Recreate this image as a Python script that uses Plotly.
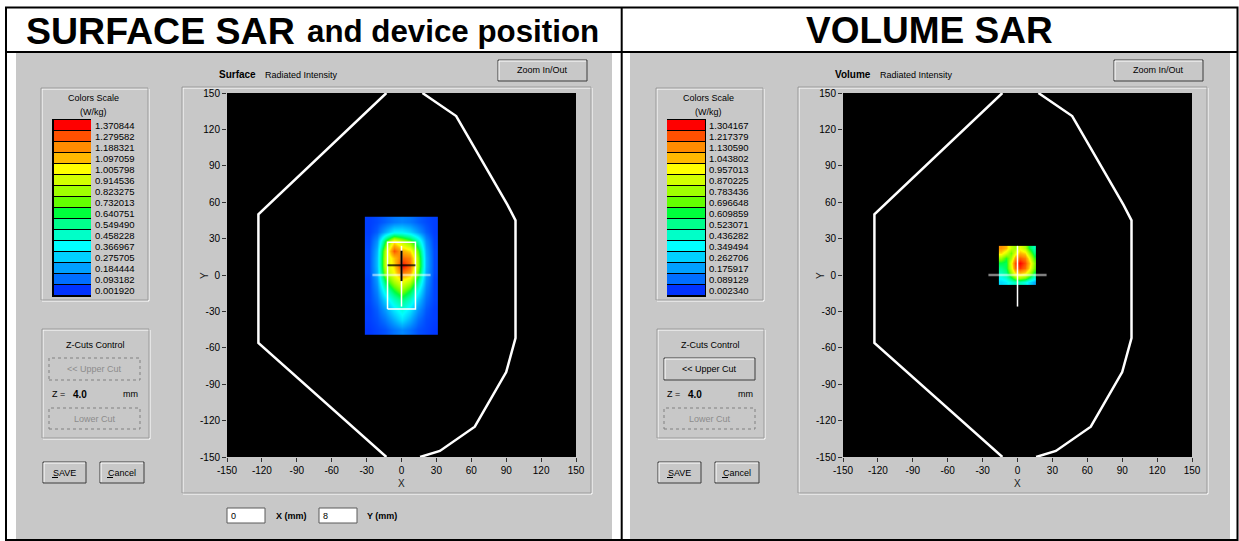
import plotly.graph_objects as go

W, H = 1239, 541

# ---- colour scale levels (W/kg), listed top to bottom as in each legend ----
surface_levels = [1.370844, 1.279582, 1.188321, 1.097059, 1.005798, 0.914536,
                  0.823275, 0.732013, 0.640751, 0.549490, 0.458228, 0.366967,
                  0.275705, 0.184444, 0.093182, 0.001920]
volume_levels = [1.304167, 1.217379, 1.130590, 1.043802, 0.957013, 0.870225,
                 0.783436, 0.696648, 0.609859, 0.523071, 0.436282, 0.349494,
                 0.262706, 0.175917, 0.089129, 0.002340]
scale_colors = ['#ff0000', '#ff5000', '#ff8c00', '#ffb900', '#ffff00', '#d2ff00',
                '#a0ff00', '#64ff00', '#00ff3c', '#00ff8c', '#00ffc8', '#00ffff',
                '#00d2ff', '#00a0ff', '#006eff', '#0032ff']

# ---- surface scan (mm grid, rows top to bottom) ----
surface_x = [-28, -21, -14, -7, 0, 7, 14, 21, 28]
surface_y = [44, 36, 28, 20, 14, 8, 2, -4, -12, -20, -28, -36, -45]
surface_sar = [
    [0.02, 0.04, 0.07, 0.11, 0.13, 0.11, 0.07, 0.04, 0.02],
    [0.02, 0.07, 0.20, 0.34, 0.34, 0.28, 0.17, 0.07, 0.02],
    [0.03, 0.16, 0.62, 1.00, 0.85, 0.72, 0.48, 0.15, 0.03],
    [0.04, 0.22, 0.85, 1.28, 1.12, 1.05, 0.72, 0.20, 0.04],
    [0.04, 0.24, 0.88, 1.08, 1.25, 1.20, 0.80, 0.22, 0.04],
    [0.04, 0.24, 0.88, 1.05, 1.37, 1.25, 0.82, 0.22, 0.04],
    [0.04, 0.22, 0.80, 1.00, 1.22, 1.15, 0.74, 0.20, 0.04],
    [0.03, 0.18, 0.64, 0.88, 1.02, 0.92, 0.58, 0.17, 0.03],
    [0.03, 0.14, 0.44, 0.66, 0.80, 0.66, 0.40, 0.13, 0.03],
    [0.03, 0.10, 0.28, 0.46, 0.57, 0.46, 0.26, 0.09, 0.03],
    [0.02, 0.07, 0.18, 0.33, 0.43, 0.33, 0.17, 0.06, 0.02],
    [0.02, 0.05, 0.11, 0.22, 0.32, 0.22, 0.10, 0.04, 0.02],
    [0.01, 0.03, 0.05, 0.10, 0.14, 0.10, 0.05, 0.03, 0.01],
]

# ---- volume (zoom) scan, rows top to bottom ----
volume_x = [-14, -10, -6, -2, 2, 6, 10, 14]
volume_y = [22, 18, 14, 10, 6, 2, -2, -6]
volume_sar = [
    [1.12, 1.05, 0.85, 0.78, 0.92, 0.82, 0.60, 0.46],
    [1.00, 0.88, 0.72, 0.90, 1.05, 1.00, 0.78, 0.55],
    [0.78, 0.64, 0.80, 1.10, 1.20, 1.15, 0.95, 0.66],
    [0.60, 0.58, 0.92, 1.22, 1.30, 1.22, 1.05, 0.76],
    [0.52, 0.58, 0.88, 1.18, 1.25, 1.18, 1.00, 0.72],
    [0.45, 0.52, 0.76, 0.98, 1.05, 0.98, 0.84, 0.60],
    [0.36, 0.42, 0.58, 0.72, 0.78, 0.72, 0.58, 0.40],
    [0.28, 0.32, 0.40, 0.46, 0.46, 0.40, 0.30, 0.20],
]

# ---- phantom outline (mm), two open segments ----
outline_x = [18, 47, 91, 98, 98, 90, 63, 33, 16, None, -13, -123, -123, -13]
outline_y = [150, 131, 58, 45, -52, -80, -125, -145, -150, None, -150, -56, 50, 150]

# device footprint and probe position
device_x = [-12, 12]
device_y = [-28, 27]
probe_x, probe_y = 0, 8
ticks_mm = [-150, -120, -90, -60, -30, 0, 30, 60, 90, 120, 150]

UI = "Liberation Sans"
GRAY = "#c8c8c8"


def PX(x):
    return x / W


def PY(y):
    return 1 - y / H


shapes = []
annotations = []


def rect(x0, y0, x1, y1, fill=None, line=None, lw=1, dash=None):
    shapes.append(dict(type="rect", xref="paper", yref="paper",
                       x0=PX(x0), x1=PX(x1), y0=PY(y1), y1=PY(y0),
                       fillcolor=fill or "rgba(0,0,0,0)",
                       line=dict(color=line or "rgba(0,0,0,0)", width=lw if line else 0,
                                 dash=dash or "solid"),
                       layer="below"))


def hline(x0, x1, y, color, lw=1):
    shapes.append(dict(type="line", xref="paper", yref="paper", x0=PX(x0), x1=PX(x1),
                       y0=PY(y), y1=PY(y), line=dict(color=color, width=lw), layer="below"))


def vline(x, y0, y1, color, lw=1):
    shapes.append(dict(type="line", xref="paper", yref="paper", x0=PX(x), x1=PX(x),
                       y0=PY(y0), y1=PY(y1), line=dict(color=color, width=lw), layer="below"))


def text(x, y, s, size=9, color="#000", bold=False, xanchor="left", angle=0, family=UI):
    if bold:
        s = "<b>" + s + "</b>"
    annotations.append(dict(x=PX(x), y=PY(y), xref="paper", yref="paper", text=s,
                            showarrow=False, xanchor=xanchor, yanchor="middle",
                            textangle=angle, font=dict(family=family, size=size, color=color)))


def etched(x0, y0, x1, y1):
    rect(x0 + 1, y0 + 1, x1 + 1, y1 + 1, line="#ffffff")
    rect(x0, y0, x1, y1, line="#9a9a9a")


def button(x0, y0, x1, y1, label, enabled=True, underline=None):
    if enabled:
        rect(x0, y0, x1, y1, fill=GRAY, line="#3c3c3c")
        hline(x0 + 1, x1 - 1, y0 + 1, "#ffffff")
        vline(x0 + 1, y0 + 1, y1 - 1, "#ffffff")
        color = "#000"
    else:
        rect(x0, y0, x1, y1, fill=GRAY, line="#808080", dash="dot")
        color = "#8c8c8c"
    cx, cy = (x0 + x1) / 2, (y0 + y1) / 2
    text(cx, cy, label, size=9, color=color, xanchor="center")
    if underline:
        ux0, ux1 = underline
        hline(ux0, ux1, cy + 5, "#000")


# ---- page frame ----
rect(16, 53, 612, 539, fill=GRAY)
rect(630, 53, 1230, 539, fill=GRAY)
rect(6, 7.5, 1237.5, 540, line="#000", lw=2)
hline(6, 1237.5, 52, "#000", 2)
vline(621.7, 7.5, 540, "#000", 2)

text(24, 31, "SURFACE SAR", size=37.5, bold=True)
text(305, 32, "and device position", size=31.3, bold=True)
text(929, 31, "VOLUME SAR", size=37, bold=True, xanchor="center")

panels = [
    dict(off=0, woff=0, name="Surface", levels=surface_levels, enabled_upper=False),
    dict(off=616, woff=615, name="Volume", levels=volume_levels, enabled_upper=True),
]

for p in panels:
    o, w = p["off"], p["woff"]
    # plot group frame and black plotting area
    etched(182 + o, 87, 591 + o, 493)
    rect(227 + o, 93, 576 + o, 457, fill="#000")
    # header
    text(217 + o, 75, p["name"], size=10, bold=True)
    text(263 + o if o == 0 else 878, 75, "Radiated Intensity", size=9)
    button(498 + o, 60, 587 + o, 81, "Zoom In/Out")
    # colour legend box
    etched(41 + w, 88, 148 + w, 300)
    text(93 + w, 98, "Colors Scale", size=9, xanchor="center")
    text(93 + w, 112, "(W/kg)", size=9, xanchor="center")
    rect(53 + w - 1, 119, 92 + w - 1, 297, fill="#000")
    # Z-cuts control
    etched(42 + w, 329, 149 + w, 438)
    text(95 + w, 345, "Z-Cuts Control", size=9, xanchor="center")
    button(49 + w, 358, 140 + w, 380, "&lt;&lt; Upper Cut", enabled=p["enabled_upper"])
    text(50 + w, 394, "Z =", size=9)
    text(71 + w, 394, "4.0", size=10, bold=True)
    text(140 + w, 394, "mm", size=9, xanchor="right")
    button(49 + w, 408, 140 + w, 429, "Lower Cut", enabled=False)
    button(43 + w, 462, 86 + w, 483, "SAVE", underline=(52 + w, 58 + w))
    button(100 + w, 462, 144 + w, 483, "Cancel", underline=(107 + w, 113 + w))
    # axis titles
    text(401 + o, 483, "X", size=10, color="#202020", xanchor="center")
    text(204 + o, 276, "Y", size=10, color="#202020", xanchor="center", angle=-90)

# probe position inputs
rect(227, 508, 265, 523, fill="#ffffff", line="#5a5a5a")
text(229, 516, str(probe_x), size=9)
text(274, 516, "X (mm)", size=9, bold=True)
rect(319, 508, 357, 523, fill="#ffffff", line="#5a5a5a")
text(321, 516, str(probe_y), size=9)
text(365, 516, "Y (mm)", size=9, bold=True)


def continuous_scale(levels):
    lo, hi = min(levels), max(levels)
    return [[(v - lo) / (hi - lo), c] for v, c in zip(reversed(levels), reversed(scale_colors))]


def discrete_scale():
    cols = list(reversed(scale_colors))
    return [[i / 15, c] for i, c in enumerate(cols)]


fig = go.Figure()

# SAR maps
fig.add_trace(go.Heatmap(x=surface_x, y=surface_y[::-1], z=surface_sar[::-1], zsmooth="best",
                         colorscale=continuous_scale(surface_levels),
                         zmin=min(surface_levels), zmax=max(surface_levels),
                         showscale=False, hoverinfo="skip", xaxis="x", yaxis="y"))
fig.add_trace(go.Heatmap(x=volume_x, y=volume_y[::-1], z=volume_sar[::-1], zsmooth="best",
                         colorscale=continuous_scale(volume_levels),
                         zmin=min(volume_levels), zmax=max(volume_levels),
                         showscale=False, hoverinfo="skip", xaxis="x2", yaxis="y2"))

for xa, ya in (("x", "y"), ("x2", "y2")):
    fig.add_trace(go.Scatter(x=outline_x, y=outline_y, mode="lines",
                             line=dict(color="#ffffff", width=2.5), hoverinfo="skip",
                             xaxis=xa, yaxis=ya))
    # reference cross at the origin
    fig.add_trace(go.Scatter(x=[-25, 25], y=[0, 0], mode="lines",
                             line=dict(color="rgba(255,255,255,0.5)", width=2.5),
                             hoverinfo="skip", xaxis=xa, yaxis=ya))
    fig.add_trace(go.Scatter(x=[0, 0], y=[-26, 24], mode="lines",
                             line=dict(color="#ffffff", width=1.5),
                             hoverinfo="skip", xaxis=xa, yaxis=ya))

# device footprint and probe cross on the surface map
fig.add_trace(go.Scatter(x=[device_x[0], device_x[1], device_x[1], device_x[0], device_x[0]],
                         y=[device_y[0], device_y[0], device_y[1], device_y[1], device_y[0]],
                         mode="lines", line=dict(color="#ffffff", width=1.5),
                         hoverinfo="skip", xaxis="x", yaxis="y"))
fig.add_trace(go.Scatter(x=[probe_x - 12, probe_x + 12], y=[probe_y, probe_y], mode="lines",
                         line=dict(color="rgba(0,0,0,0.75)", width=2),
                         hoverinfo="skip", xaxis="x", yaxis="y"))
fig.add_trace(go.Scatter(x=[probe_x, probe_x], y=[probe_y - 13, probe_y + 12], mode="lines",
                         line=dict(color="#000000", width=2),
                         hoverinfo="skip", xaxis="x", yaxis="y"))

# colour legends
for levels, xa, ya in ((surface_levels, "x3", "y3"), (volume_levels, "x4", "y4")):
    fig.add_trace(go.Heatmap(z=[[i] for i in range(16)], y=list(range(16)), x=[0],
                             colorscale=discrete_scale(), zmin=0, zmax=15, ygap=1,
                             showscale=False, hoverinfo="skip", xaxis=xa, yaxis=ya))

main_axis = dict(range=[-150, 150], tickvals=ticks_mm, ticktext=[str(t) for t in ticks_mm],
                 ticks="outside", ticklen=4, automargin=False,
                 tickcolor="#303030", tickfont=dict(family=UI, size=10, color="#000"),
                 showgrid=False, zeroline=False, showline=False, fixedrange=True)


def legend_y(levels, dom):
    return dict(domain=dom, range=[-0.5, 15.5], side="right", tickvals=list(range(16)),
                ticktext=[f"{v:.6f}" for v in reversed(levels)], ticks="",
                ticklabelstandoff=3, automargin=False,
                tickfont=dict(family=UI, size=9.5, color="#000"),
                showgrid=False, zeroline=False, showline=False, fixedrange=True)


legend_x = dict(range=[-0.5, 0.5], visible=False, fixedrange=True, automargin=False)
ydom = [PY(457), PY(93)]
ldom = [PY(296), PY(120)]

fig.update_layout(
    width=W, height=H, margin=dict(l=0, r=0, t=0, b=0, pad=0, autoexpand=False),
    paper_bgcolor="#ffffff", plot_bgcolor="rgba(0,0,0,0)",
    showlegend=False, shapes=shapes, annotations=annotations,
    xaxis=dict(main_axis, domain=[PX(227), PX(576)], anchor="y"),
    yaxis=dict(main_axis, domain=ydom, anchor="x"),
    xaxis2=dict(main_axis, domain=[PX(843), PX(1192)], anchor="y2"),
    yaxis2=dict(main_axis, domain=ydom, anchor="x2"),
    xaxis3=dict(legend_x, domain=[PX(54), PX(91)], anchor="y3"),
    yaxis3=dict(legend_y(surface_levels, ldom), anchor="x3"),
    xaxis4=dict(legend_x, domain=[PX(667), PX(705)], anchor="y4"),
    yaxis4=dict(legend_y(volume_levels, ldom), anchor="x4"),
)

fig.write_html("out.html", config={"displayModeBar": False})
